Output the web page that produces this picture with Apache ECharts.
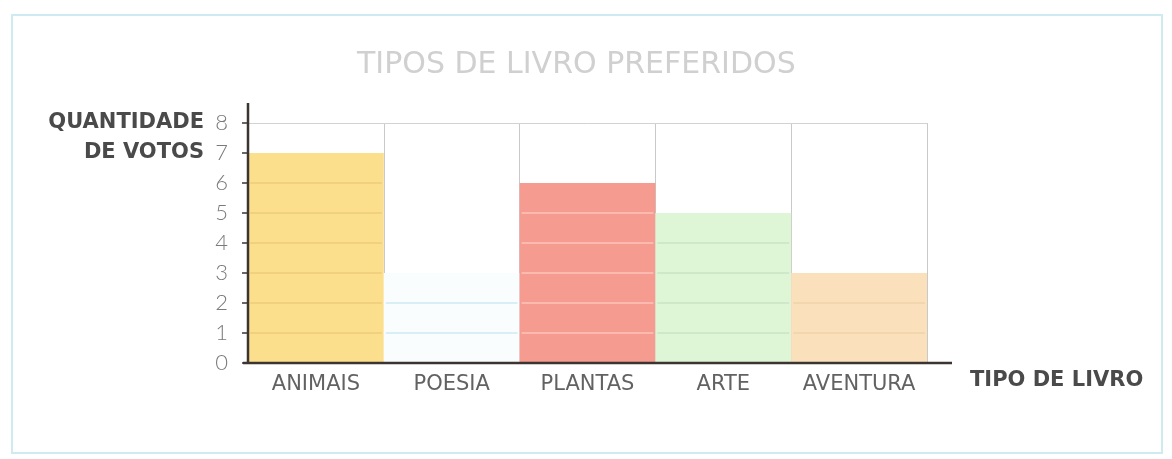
<!DOCTYPE html>
<html>
<head>
<meta charset="utf-8">
<script src="https://cdn.jsdelivr.net/npm/echarts@6/dist/echarts.min.js"></script>
<style>
  html, body { margin: 0; padding: 0; background: #ffffff; }
  #chart { width: 1172px; height: 459px; }
</style>
</head>
<body>
<div id="chart"></div>
<script>
// Votes per book type
const categories = ['ANIMAIS', 'POESIA', 'PLANTAS', 'ARTE', 'AVENTURA'];
const votes = [7, 3, 6, 5, 3];
const yTicks = [0, 1, 2, 3, 4, 5, 6, 7, 8];
const titleText = 'TIPOS DE LIVRO PREFERIDOS';
const xAxisTitle = 'TIPO DE LIVRO';
const yAxisTitle = ['QUANTIDADE', 'DE VOTOS'];

// Fill of each column and the tint of the unit lines printed inside it
const barColors = ['#fcdf8d', '#fafdfe', '#f59b8f', '#dff6d6', '#fbe1bb'];
const unitLineColors = ['rgba(205,170,90,0.35)', 'rgba(160,220,232,0.5)', 'rgba(255,215,205,0.7)',
                        'rgba(170,200,170,0.4)', 'rgba(215,185,140,0.35)'];

const yMin = yTicks[0];
const yMax = yTicks[yTicks.length - 1];
const inkColor = '#3b3431';
const labelFont = 'DejaVu Sans';
const chart = echarts.init(document.getElementById('chart'), null, { renderer: 'canvas' });

const option = {
  animation: false,
  backgroundColor: '#ffffff',
  title: {
    text: titleText,
    left: 352,
    top: 45,
    textStyle: { fontFamily: labelFont, fontWeight: 'normal', fontSize: 30, color: '#d0d0d0' }
  },
  grid: { left: 248, right: 245, top: 123, bottom: 96 },
  xAxis: [{
    type: 'category',
    data: categories,
    boundaryGap: true,
    axisLine: { show: false },
    axisTick: { show: false },
    axisLabel: { interval: 0, margin: 11, fontFamily: labelFont, fontSize: 21, color: '#626262' },
    splitLine: { show: true, interval: 0, lineStyle: { color: '#c9c9c9', width: 1 } },
    name: xAxisTitle,
    nameLocation: 'end',
    nameGap: 43,
    nameTextStyle: { fontFamily: labelFont, fontWeight: 'bold', fontSize: 21, color: '#4a4a4a',
                     verticalAlign: 'top', padding: [7, 0, 0, 0] }
  }, {
    type: 'category',
    data: categories,
    position: 'top',
    axisLine: { show: true, lineStyle: { color: '#d2d2d2', width: 1 } },
    axisTick: { show: false },
    axisLabel: { show: false }
  }],
  yAxis: {
    type: 'value',
    min: yMin,
    max: yMax,
    interval: 1,
    axisLine: { show: false },
    axisTick: { show: true, length: 6, lineStyle: { color: inkColor, width: 1.5 } },
    axisLabel: { margin: 20, fontFamily: 'Lato', fontWeight: 300, fontSize: 22, color: '#7a7a7a',
                 padding: [4, 0, 0, 0] },
    splitLine: { show: false }
  },
  series: [{
    type: 'bar',
    data: votes.map((v, i) => ({ value: v, itemStyle: { color: barColors[i] } })),
    barCategoryGap: '0%',
    barGap: '0%',
    z: 2
  }, {
    // unit lines drawn inside each column, one per whole vote below its top
    type: 'custom',
    data: votes.map((v, i) => [i, v]),
    z: 3,
    renderItem: function (params, api) {
      const idx = api.value(0);
      const val = api.value(1);
      const width = api.size([1, 0])[0];
      const children = [];
      for (let k = yMin + 1; k < val; k++) {
        const p = api.coord([idx, k]);
        children.push({
          type: 'line',
          shape: { x1: p[0] - width / 2 + 2, y1: p[1], x2: p[0] + width / 2 - 2, y2: p[1] },
          style: { stroke: unitLineColors[idx], lineWidth: 1.5 }
        });
      }
      return { type: 'group', children: children };
    }
  }]
};

chart.setOption(option);

// Frame, axis titles and the heavy axis lines that run past the plot edges
const firstCat = chart.convertToPixel({ xAxisIndex: 0 }, 0);
const catWidth = chart.convertToPixel({ xAxisIndex: 0 }, 1) - firstCat;
const lastCat = chart.convertToPixel({ xAxisIndex: 0 }, categories.length - 1);
const axisX = firstCat - catWidth / 2;
const rightEdge = lastCat + catWidth / 2;
const axisY = chart.convertToPixel({ yAxisIndex: 0 }, yMin);
const topPt = chart.convertToPixel({ yAxisIndex: 0 }, yMax);
const tick7 = chart.convertToPixel({ yAxisIndex: 0 }, 7);

chart.setOption({
  graphic: [
    {
      type: 'rect',
      shape: { x: 12, y: 15, width: 1150, height: 438 },
      style: { fill: null, stroke: '#cdebf0', lineWidth: 2 },
      silent: true
    },
    {
      type: 'line',
      shape: { x1: axisX, y1: topPt - 20, x2: axisX, y2: axisY + 1 },
      style: { stroke: inkColor, lineWidth: 2.5 },
      z: 10
    },
    {
      type: 'line',
      shape: { x1: axisX - 5, y1: axisY, x2: rightEdge + 25, y2: axisY },
      style: { stroke: inkColor, lineWidth: 2.5 },
      z: 10
    },
    {
      type: 'text',
      x: 204, y: topPt,
      style: { text: yAxisTitle[0], align: 'right', verticalAlign: 'middle',
               font: 'bold 21px "DejaVu Sans"', fill: '#4a4a4a' }
    },
    {
      type: 'text',
      x: 204, y: tick7,
      style: { text: yAxisTitle[1], align: 'right', verticalAlign: 'middle',
               font: 'bold 21px "DejaVu Sans"', fill: '#4a4a4a' }
    }
  ]
});
</script>
</body>
</html>
